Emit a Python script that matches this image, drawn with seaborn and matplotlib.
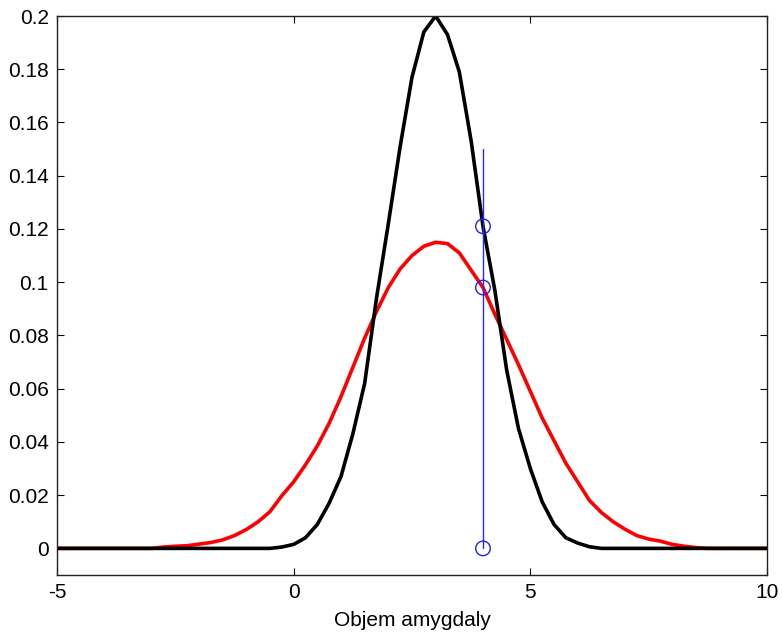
import seaborn as sns
import matplotlib.pyplot as plt
import pandas as pd

# black curve (narrow)
black_x = [-5, -0.5, -0.25, 0, 0.25, 0.5, 0.75, 1.0, 1.25, 1.5, 1.75, 2.0,
           2.25, 2.5, 2.75, 3.0, 3.25, 3.5, 3.75, 4.0, 4.25, 4.5, 4.75, 5.0,
           5.25, 5.5, 5.75, 6.0, 6.25, 6.5, 10]
black_y = [0, 0, 0.0005, 0.0015, 0.004, 0.009, 0.017, 0.027, 0.043, 0.062,
           0.094, 0.122, 0.151, 0.177, 0.194, 0.2, 0.193, 0.179, 0.153, 0.121,
           0.097, 0.067, 0.045, 0.030, 0.0175, 0.009, 0.004, 0.002, 0.0006, 0, 0]

# red curve (wide)
red_x = [-5, -3, -2.75, -2.5, -2.25, -2.0, -1.75, -1.5, -1.25, -1.0, -0.75,
         -0.5, -0.25, 0, 0.25, 0.5, 0.75, 1.0, 1.25, 1.5, 1.75, 2.0, 2.25,
         2.5, 2.75, 3.0, 3.25, 3.5, 3.75, 4.0, 4.25, 4.5, 4.75, 5.0, 5.25,
         5.5, 5.75, 6.0, 6.25, 6.5, 6.75, 7.0, 7.25, 7.5, 7.75, 8.0, 8.25,
         8.5, 8.75, 10]
red_y = [0, 0, 0.0005, 0.0008, 0.001, 0.0016, 0.0022, 0.0032, 0.0048, 0.0071,
         0.010, 0.0138, 0.0198, 0.025, 0.0314, 0.0385, 0.047, 0.057, 0.068,
         0.079, 0.089, 0.098, 0.105, 0.110, 0.1135, 0.115, 0.1145, 0.111,
         0.1045, 0.098, 0.088, 0.0785, 0.069, 0.059, 0.049, 0.0405, 0.032,
         0.025, 0.018, 0.0135, 0.010, 0.0072, 0.0048, 0.0035, 0.0027, 0.0015,
         0.0008, 0.0003, 0, 0]

# blue stem at x = 4
stem_x = [4, 4]
stem_y = [0, 0.15]
mark_x = [4, 4, 4]
mark_y = [0, 0.098, 0.121]

x_ticks = [-5, 0, 5, 10]
y_ticks = [0, 0.02, 0.04, 0.06, 0.08, 0.1, 0.12, 0.14, 0.16, 0.18, 0.2]
y_labels = ['0', '0.02', '0.04', '0.06', '0.08', '0.1', '0.12', '0.14',
            '0.16', '0.18', '0.2']


def main():
    sns.set_style("ticks")
    plt.rcParams['font.family'] = ['Liberation Sans', 'DejaVu Sans']
    plt.rcParams['text.color'] = 'black'
    plt.rcParams['axes.labelcolor'] = 'black'
    plt.rcParams['xtick.color'] = 'black'
    plt.rcParams['ytick.color'] = 'black'

    fig = plt.figure(figsize=(7.82, 6.36), dpi=100)
    ax = fig.add_axes([57 / 782, 1 - 575 / 636, 710 / 782, 559 / 636])

    red = pd.DataFrame({'x': red_x, 'y': red_y})
    black = pd.DataFrame({'x': black_x, 'y': black_y})

    sns.lineplot(data=red, x='x', y='y', color='#ff0000', linewidth=2.6,
                 sort=False, estimator=None, ax=ax)
    sns.lineplot(data=black, x='x', y='y', color='black', linewidth=2.6,
                 sort=False, estimator=None, ax=ax)
    sns.lineplot(x=stem_x, y=stem_y, color='#2828ff', linewidth=1.0,
                 sort=False, estimator=None, ax=ax)
    sns.scatterplot(x=mark_x, y=mark_y, marker='o', s=110,
                    facecolors='none', edgecolors='#2020ff', linewidth=1,
                    ax=ax, zorder=5)

    ax.set_xlim(-5, 10)
    ax.set_ylim(-0.01, 0.2)
    ax.set_xticks(x_ticks)
    ax.set_xticklabels([str(t) for t in x_ticks])
    ax.set_yticks(y_ticks)
    ax.set_yticklabels(y_labels)
    ax.tick_params(axis='both', which='both', direction='in', length=5,
                   width=0.8, labelsize=15, top=True, right=True, pad=6,
                   colors='black')
    for s in ax.spines.values():
        s.set_visible(True)
        s.set_linewidth(1.0)
        s.set_color('#222222')
    ax.set_xlabel('Objem amygdaly', fontsize=15, labelpad=6)
    ax.set_ylabel('')

    fig.savefig('out.png', dpi=100)


if __name__ == "__main__":
    main()
